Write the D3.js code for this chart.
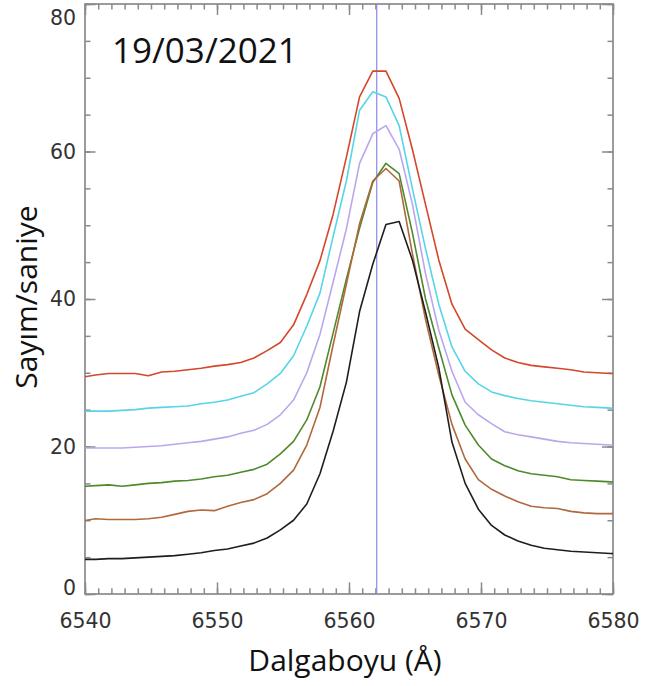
<!DOCTYPE html>
<html><head><meta charset="utf-8">
<script src="https://cdn.jsdelivr.net/npm/d3@7"></script>
<style>
html,body{margin:0;padding:0;background:#fff;}
svg{display:block;}
</style></head>
<body>
<svg id="chart" width="659" height="686"></svg>
<script>
// ---- data ----
const wavelengths = [6539.8,6540.8,6541.8,6542.8,6543.8,6544.8,6545.8,6546.8,6547.8,6548.8,
  6549.8,6550.8,6551.8,6552.8,6553.8,6554.8,6555.8,6556.8,6557.8,6558.8,
  6559.8,6560.8,6561.8,6562.8,6563.8,6564.8,6565.8,6566.8,6567.8,6568.8,
  6569.8,6570.8,6571.8,6572.8,6573.8,6574.8,6575.8,6576.8,6577.8,6578.8,
  6579.8,6580.8];
const seriesRed = [29.4,29.7,29.9,29.9,29.9,29.6,30.1,30.2,30.4,30.6,30.9,31.1,31.4,32.0,33.0,34.1,36.5,40.6,45.2,51.5,59.2,67.4,70.9,70.9,67.2,60.3,52.8,45.3,39.3,35.9,34.5,33.1,32.0,31.4,31.0,30.8,30.6,30.4,30.1,30.0,29.9,29.9];
const seriesCyan = [24.8,24.8,24.8,24.9,25.0,25.2,25.3,25.4,25.5,25.8,26.0,26.3,26.8,27.3,28.5,29.9,32.3,36.3,40.8,48.5,56.0,65.6,68.1,67.4,63.5,55.0,46.8,39.3,33.5,30.2,28.5,27.4,26.9,26.5,26.2,26.0,25.8,25.6,25.4,25.3,25.2,25.1];
const seriesLavender = [19.8,19.8,19.8,19.8,19.9,20.0,20.1,20.3,20.5,20.7,21.0,21.3,21.8,22.2,23.0,24.3,26.3,30.0,35.2,42.3,49.5,58.4,62.4,63.5,60.3,52.9,43.4,35.8,30.2,26.0,24.3,23.1,22.0,21.6,21.3,21.0,20.7,20.5,20.4,20.3,20.2,20.2];
const seriesGreen = [14.6,14.7,14.8,14.6,14.8,15.0,15.1,15.3,15.4,15.6,15.9,16.1,16.5,16.9,17.6,19.0,20.7,23.6,28.1,35.4,42.7,49.6,55.8,58.4,57.0,49.0,40.0,33.4,27.0,22.9,20.2,18.3,17.4,16.7,16.3,16.1,15.9,15.5,15.4,15.3,15.2,15.1];
const seriesBrown = [9.9,10.2,10.1,10.1,10.1,10.2,10.4,10.8,11.2,11.4,11.3,11.9,12.4,12.8,13.6,15.0,16.8,20.2,25.3,33.8,42.0,50.2,56.0,57.7,56.0,46.2,37.2,29.7,23.0,18.3,15.5,14.2,13.3,12.5,11.9,11.7,11.6,11.2,11.0,10.9,10.9,10.9];
const seriesBlack = [4.7,4.7,4.8,4.8,4.9,5.0,5.1,5.2,5.4,5.6,5.9,6.1,6.5,6.9,7.6,8.7,10.0,12.2,16.3,22.1,28.7,38.3,44.7,50.1,50.5,45.3,38.2,30.7,20.6,15.0,11.5,9.3,8.0,7.2,6.6,6.2,6.0,5.8,5.7,5.6,5.5,5.4];
const seriesList = [seriesRed, seriesCyan, seriesLavender, seriesGreen, seriesBrown, seriesBlack];
const seriesColors = ["#d4472a", "#55d5e6", "#bba6ee", "#4e8a2c", "#b0683c", "#1e1e1e"];
const xTickValues = [6540, 6550, 6560, 6570, 6580];
const yTickValues = [0, 20, 40, 60, 80];
const referenceWavelength = 6562.1;
const titleText = "19/03/2021";
const xLabel = "Dalgaboyu (Å)";
const yLabel = "Sayım/saniye";

// ---- layout ----
const L = 85, R = 613, T = 4, B = 594;
const svg = d3.select("#chart");
const x = d3.scaleLinear().domain([6540, 6580]).range([L, R]);
const y = d3.scaleLinear().domain([0, 80]).range([B, T]);
const axisColor = "#8a8a8a";
const labelFont = "'DejaVu Sans', sans-serif";

svg.append("defs").append("clipPath").attr("id", "plotclip")
  .append("rect").attr("x", L).attr("y", T).attr("width", R - L).attr("height", B - T);

// minor ticks
const xMinor = d3.range(6540, 6581, 1);
const yMinor = d3.range(0, 81, 5);

function styleAxis(g) {
  g.select(".domain").remove();
  g.selectAll(".tick line").attr("stroke", axisColor).attr("stroke-width", 1.5);
  g.selectAll(".tick text").attr("fill", "#333").style("font-family", labelFont).style("font-size", "20.5px");
}

// bottom
svg.append("g").attr("transform", `translate(0,${B})`)
  .call(d3.axisBottom(x).tickValues(xMinor).tickFormat("").tickSizeInner(-5.7).tickSizeOuter(0)).call(styleAxis);
svg.append("g").attr("transform", `translate(0,${B})`)
  .call(d3.axisBottom(x).tickValues(xTickValues).tickFormat(d3.format("d")).tickSizeInner(-11.7).tickSizeOuter(0).tickPadding(19.5)).call(styleAxis);
// top
svg.append("g").attr("transform", `translate(0,${T})`)
  .call(d3.axisTop(x).tickValues(xMinor).tickFormat("").tickSizeInner(-5.5).tickSizeOuter(0)).call(styleAxis);
svg.append("g").attr("transform", `translate(0,${T})`)
  .call(d3.axisTop(x).tickValues(xTickValues).tickFormat("").tickSizeInner(-11).tickSizeOuter(0)).call(styleAxis);
// left
svg.append("g").attr("transform", `translate(${L},0)`)
  .call(d3.axisLeft(y).tickValues(yMinor).tickFormat("").tickSizeInner(-5.5).tickSizeOuter(0)).call(styleAxis);
const yAx = svg.append("g").attr("transform", `translate(${L},0)`)
  .call(d3.axisLeft(y).tickValues(yTickValues).tickFormat(d3.format("d")).tickSizeInner(-10.5).tickSizeOuter(0).tickPadding(9)).call(styleAxis);
yAx.selectAll(".tick text").attr("dy", d => d === 80 ? "1.02em" : d === 0 ? "0em" : "0.34em");
// right
svg.append("g").attr("transform", `translate(${R},0)`)
  .call(d3.axisRight(y).tickValues(yMinor).tickFormat("").tickSizeInner(-5.5).tickSizeOuter(0)).call(styleAxis);
svg.append("g").attr("transform", `translate(${R},0)`)
  .call(d3.axisRight(y).tickValues(yTickValues).tickFormat("").tickSizeInner(-11).tickSizeOuter(0)).call(styleAxis);

// frame
svg.append("rect").attr("x", L).attr("y", T).attr("width", R - L).attr("height", B - T)
  .attr("fill", "none").attr("stroke", axisColor).attr("stroke-width", 1.7);

// reference vertical line
svg.append("line")
  .attr("x1", x(referenceWavelength)).attr("x2", x(referenceWavelength))
  .attr("y1", y(80)).attr("y2", y(0))
  .attr("stroke", "#8a8aee").attr("stroke-width", 1.2);

// lines
const line = d3.line().x((d, i) => x(wavelengths[i])).y(d => y(d));
const lg = svg.append("g").attr("clip-path", "url(#plotclip)");
seriesList.forEach((s, k) => {
  lg.append("path").datum(s).attr("d", line)
    .attr("fill", "none").attr("stroke", seriesColors[k]).attr("stroke-width", 1.6)
    .attr("stroke-linejoin", "round");
});

// texts
svg.append("text").attr("x", 112).attr("y", 63).text(titleText)
  .style("font-family", "'Open Sans', sans-serif").style("font-size", "35px").attr("fill", "#111");
svg.append("text").attr("x", 345).attr("y", 671).attr("text-anchor", "middle").text(xLabel)
  .style("font-family", "'Open Sans', sans-serif").style("font-size", "30px").attr("fill", "#111");
svg.append("text").attr("transform", "translate(37,297) rotate(-90)").attr("text-anchor", "middle").text(yLabel)
  .style("font-family", "'Open Sans', sans-serif").style("font-size", "30px").attr("fill", "#111");
</script>
</body></html>
